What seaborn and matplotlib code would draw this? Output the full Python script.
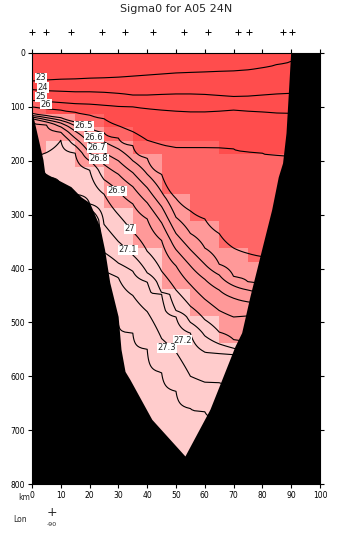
import numpy as np
import matplotlib
matplotlib.use("Agg")
import matplotlib.pyplot as plt
from matplotlib.colors import ListedColormap, BoundaryNorm
import seaborn as sns

# distance along section (km) where isopycnal depths were read
km = [0, 5, 10, 15, 20, 25, 30, 35, 40, 45, 50, 55, 60, 65, 70, 75, 80, 85, 90]

# isopycnal depths (m) at each km (values under the sea floor just keep the order)
d230 = [52, 50, 49, 48, 47, 46, 45, 43, 41, 39, 37, 36, 35, 34, 33, 31, 27, 21, 15]
d240 = [68, 70, 71, 72, 72, 73, 75, 78, 78, 77, 76, 76, 77, 79, 81, 80, 78, 76, 75]
d250 = [88, 90, 92, 94, 95, 97, 99, 100, 103, 106, 108, 109, 109, 108, 106, 108, 109, 111, 112]
d260 = [100, 103, 106, 110, 115, 122, 135, 146, 162, 170, 175, 175, 175, 176, 178, 183, 186, 190, 192]
d265 = [112, 116, 120, 128, 138, 148, 158, 172, 195, 225, 270, 293, 308, 335, 362, 372, 378, 380, 380]
d266 = [116, 120, 125, 135, 150, 165, 178, 200, 225, 258, 305, 335, 362, 392, 415, 425, 430, 432, 432]
d267 = [119, 124, 130, 145, 167, 185, 200, 222, 250, 285, 335, 365, 392, 412, 432, 440, 445, 447, 447]
d268 = [122, 128, 137, 158, 186, 207, 225, 248, 278, 315, 365, 395, 420, 440, 455, 462, 465, 467, 467]
d269 = [126, 133, 147, 172, 200, 235, 256, 280, 308, 348, 395, 430, 457, 478, 490, 488, 490, 492, 492]
d270 = [200, 185, 162, 186, 217, 262, 300, 332, 368, 405, 440, 470, 495, 518, 532, 540, 545, 545, 545]
d271 = [210, 230, 250, 262, 280, 318, 350, 375, 408, 445, 478, 500, 525, 540, 548, 560, 565, 565, 565]
d272 = [220, 240, 260, 275, 290, 370, 390, 405, 425, 448, 490, 520, 555, 558, 560, 575, 580, 580, 580]
d273 = [230, 250, 270, 285, 300, 405, 417, 450, 480, 530, 555, 600, 611, 612, 620, 630, 640, 650, 650]
d274 = [240, 260, 280, 295, 310, 430, 504, 520, 550, 593, 628, 660, 666, 680, 690, 700, 700, 700, 700]
levels = [23, 24, 25, 26, 26.5, 26.6, 26.7, 26.8, 26.9, 27, 27.1, 27.2, 27.3, 27.4]

# sea floor
bottom_km = [0, 3.8, 4.4, 5.6, 13.5, 17, 20, 23.5, 25.2, 27, 29.9, 30.9, 32.3, 34, 41.6, 53.1,
             61.8, 65.9, 70.5, 72.8, 75.7, 78, 80, 83.2, 85.5, 87, 88.2, 89, 89.8, 100]
bottom_depth = [109, 198, 222, 226, 248, 267, 278, 322, 365, 426, 489, 550, 591, 606, 680, 748,
                661, 606, 544, 519, 451, 402, 359, 291, 230, 204, 148, 75, 0, 0]

stations_km = [0.1, 4.8, 13.4, 24.2, 32.4, 42.1, 52.8, 61.2, 71.6, 75.3, 87.1, 90.2]

label_text = ["23", "24", "25", "26", "26.5", "26.6", "26.7", "26.8", "26.9", "27", "27.1", "27.2", "27.3"]
label_km = [3.1, 3.8, 3.1, 4.9, 18, 21.5, 22.6, 23.3, 29.5, 34, 33.3, 52.3, 46.8]
label_depth = [46, 64, 81, 95, 135, 156, 176, 196, 256, 326, 365, 533, 547]

fill_colors = ["#ff4d4d", "#ff6666", "#ff9999", "#ffcccc"]
fill_bounds = [0, 26, 26.5, 27, 40]

# build density field from isopycnal depths
iso = np.array([d230, d240, d250, d260, d265, d266, d267, d268, d269, d270, d271, d272, d273, d274])
sig_nodes = np.r_[22.0, levels, 27.45]


def column(depths, z):
    return np.interp(z, np.r_[0, depths, 800], sig_nodes)


z = np.arange(0, 801, 2)
sigma = np.column_stack([column(iso[:, i], z) for i in range(len(km))])

km_b = np.array(km[::2])
z_b = np.arange(0, 801, 25)
sigma_b = np.column_stack([column(iso[:, i], z_b) for i in range(0, len(km), 2)])

sns.set_theme(style="ticks")
plt.rcParams["font.family"] = ["DejaVu Sans"]

fig = plt.figure(figsize=(3.55, 5.43), dpi=100)
ax = fig.add_axes([32 / 355, 1 - 484 / 543, 288 / 355, 431 / 543])
ax.set_facecolor("white")

ax.pcolormesh(km_b, z_b, sigma_b, shading="nearest",
              cmap=ListedColormap(fill_colors), norm=BoundaryNorm(fill_bounds, 4), zorder=1)
ax.contour(km, z, sigma, levels=levels, colors="black", linewidths=0.8, zorder=2)
ax.fill_between(bottom_km, bottom_depth, 800, color="black", lw=0, zorder=3)

for t, x, y in zip(label_text, label_km, label_depth):
    ax.text(x, y, t, fontsize=6, ha="center", va="center", zorder=4,
            bbox=dict(facecolor="white", edgecolor="none", pad=0.4))

sns.scatterplot(x=stations_km, y=[-39] * len(stations_km), marker="+", color="black",
                s=14, linewidth=0.7, ax=ax, clip_on=False, zorder=5)

ax.set_xlim(0, 100)
ax.set_ylim(800, 0)
ax.set_xticks(range(0, 101, 10))
ax.set_yticks(range(0, 801, 100))
ax.tick_params(direction="out", length=3, width=0.8, top=True, right=True,
               labelsize=5.5, pad=2, colors="black")
for s in ax.spines.values():
    s.set_linewidth(0.8)
    s.set_color("black")
ax.set_xlabel("")
ax.set_ylabel("")

fig.text(176 / 355, 1 - 9 / 543, "Sigma0 for A05 24N", ha="center", va="center", fontsize=8)
fig.text(30 / 355, 1 - 497 / 543, "km", ha="right", va="center", fontsize=5.5)
fig.text(13 / 355, 1 - 519 / 543, "Lon", ha="left", va="center", fontsize=5.5)
fig.text(51.7 / 355, 1 - 513 / 543, "+", ha="center", va="center", fontsize=9)
fig.text(52 / 355, 1 - 525 / 543, "-90", ha="center", va="center", fontsize=4.5)

fig.savefig("out.png", dpi=100)
